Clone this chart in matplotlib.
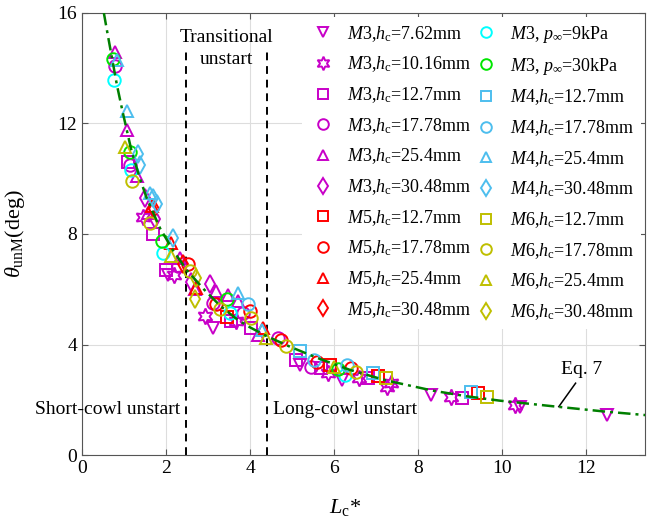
import matplotlib
matplotlib.use("Agg")
import matplotlib.pyplot as plt

plt.rcParams["font.family"] = "Liberation Serif"
plt.rcParams["mathtext.fontset"] = "custom"
plt.rcParams["mathtext.rm"] = "Liberation Serif"
plt.rcParams["mathtext.it"] = "Liberation Serif:italic"

# ---- data (x = Lc*, y = theta_unM) ----
m3_762_x = [2.05, 3.12, 5.19, 6.2, 8.3, 10.43, 12.49]
m3_762_y = [6.5, 4.6, 3.27, 2.72, 2.17, 1.75, 1.44]
m3_1016_x = [1.45, 2.2, 2.92, 3.67, 5.86, 6.6, 7.27, 7.36, 8.78, 10.3]
m3_1016_y = [8.6, 6.5, 5.02, 4.84, 2.96, 2.77, 2.47, 2.6, 2.11, 1.81]
m3_127_x = [1.1, 1.69, 2.01, 3.55, 4.03, 5.1, 5.7, 6.8, 9.05]
m3_127_y = [10.6, 8.0, 6.68, 4.84, 4.6, 3.45, 3.14, 2.77, 2.08]
m3_1778_x = [0.79, 1.15, 2.28, 3.12, 3.83, 4.67, 5.45]
m3_1778_y = [14.07, 10.5, 6.84, 5.5, 5.14, 4.23, 3.2]
m3_254_x = [0.79, 1.06, 1.3, 1.57, 2.33, 2.69, 3.2, 3.48, 3.71, 4.19]
m3_254_y = [14.6, 11.75, 10.1, 8.77, 7.14, 6.0, 5.93, 5.8, 5.56, 4.36]
m3_3048_x = [1.5, 1.74, 2.6, 3.05]
m3_3048_y = [9.3, 8.55, 6.25, 6.18]

m5_127_x = [3.45, 5.9, 7.05, 9.43]
m5_127_y = [5.0, 3.27, 2.87, 2.23]
m5_1778_x = [2.52, 3.2, 4.0, 4.74, 5.6, 6.4]
m5_1778_y = [6.9, 5.45, 5.2, 4.18, 3.38, 3.14]
m5_254_x = [1.66, 2.13, 2.71, 4.31]
m5_254_y = [9.0, 7.68, 6.05, 4.6]
m5_3048_x = [1.72, 2.4]
m5_3048_y = [8.9, 6.9]

m3_9kpa_x = [0.77, 1.16, 1.93, 3.52, 6.26]
m3_9kpa_y = [13.56, 10.3, 7.32, 5.14, 2.9]
m3_30kpa_x = [0.74, 1.14, 1.9, 3.44, 6.1]
m3_30kpa_y = [14.35, 10.96, 7.75, 5.63, 3.13]

m4_127_x = [5.18, 6.92, 9.26]
m4_127_y = [3.75, 2.96, 2.29]
m4_1778_x = [3.95, 5.53, 6.3]
m4_1778_y = [5.45, 3.45, 3.24]
m4_254_x = [0.84, 1.06, 1.62, 3.71, 4.29]
m4_254_y = [14.3, 12.45, 9.5, 5.87, 4.53]
m4_3048_x = [1.33, 1.38, 1.69, 1.78, 2.17]
m4_3048_y = [10.9, 10.5, 9.3, 9.1, 7.87]

m6_127_x = [7.23, 9.65]
m6_127_y = [2.77, 2.11]
m6_1778_x = [1.2, 1.62, 2.57, 3.28, 4.03, 4.86, 6.52]
m6_1778_y = [9.93, 8.4, 6.65, 5.27, 4.96, 3.93, 3.02]
m6_254_x = [1.02, 2.13, 4.39, 6.0]
m6_254_y = [11.14, 7.2, 4.23, 3.2]
m6_3048_x = [2.72, 2.69]
m6_3048_y = [6.4, 5.63]

# Eq. 7 curve
eq7_x = [0.52, 0.59, 0.71, 0.83, 0.97, 1.06, 1.18, 1.38, 1.54, 1.86, 2.17, 2.49,
         2.9, 3.29, 3.7, 4.0, 4.4, 4.95, 5.59, 6.38, 7.24, 8.35, 9.14, 9.93,
         11.3, 12.4, 13.45]
eq7_y = [16.0, 15.4, 14.4, 13.4, 12.4, 11.8, 11.0, 10.0, 9.3, 8.2, 7.4, 6.7,
         6.0, 5.4, 4.9, 4.62, 4.3, 3.92, 3.52, 3.08, 2.7, 2.33, 2.13, 1.97,
         1.75, 1.58, 1.44]

boundary_x = [2.48, 4.40]

magenta = "#C800C8"
red = "#FF0000"
cyan = "#00FFFF"
green = "#00E600"
lblue = "#4DBEEE"
olive = "#BFBF00"
star6 = (6, 1, 0)

left_col = [
    (m3_762_x, m3_762_y, "v", magenta, r"$\mathit{M3}$,$\mathit{h}_\mathrm{c}$=7.62mm"),
    (m3_1016_x, m3_1016_y, star6, magenta, r"$\mathit{M3}$,$\mathit{h}_\mathrm{c}$=10.16mm"),
    (m3_127_x, m3_127_y, "s", magenta, r"$\mathit{M3}$,$\mathit{h}_\mathrm{c}$=12.7mm"),
    (m3_1778_x, m3_1778_y, "o", magenta, r"$\mathit{M3}$,$\mathit{h}_\mathrm{c}$=17.78mm"),
    (m3_254_x, m3_254_y, "^", magenta, r"$\mathit{M3}$,$\mathit{h}_\mathrm{c}$=25.4mm"),
    (m3_3048_x, m3_3048_y, "d", magenta, r"$\mathit{M3}$,$\mathit{h}_\mathrm{c}$=30.48mm"),
    (m5_127_x, m5_127_y, "s", red, r"$\mathit{M5}$,$\mathit{h}_\mathrm{c}$=12.7mm"),
    (m5_1778_x, m5_1778_y, "o", red, r"$\mathit{M5}$,$\mathit{h}_\mathrm{c}$=17.78mm"),
    (m5_254_x, m5_254_y, "^", red, r"$\mathit{M5}$,$\mathit{h}_\mathrm{c}$=25.4mm"),
    (m5_3048_x, m5_3048_y, "d", red, r"$\mathit{M5}$,$\mathit{h}_\mathrm{c}$=30.48mm"),
]
right_col = [
    (m3_9kpa_x, m3_9kpa_y, "o", cyan, r"$\mathit{M3}$, $\mathit{p}_\infty$=9kPa"),
    (m3_30kpa_x, m3_30kpa_y, "o", green, r"$\mathit{M3}$, $\mathit{p}_\infty$=30kPa"),
    (m4_127_x, m4_127_y, "s", lblue, r"$\mathit{M4}$,$\mathit{h}_\mathrm{c}$=12.7mm"),
    (m4_1778_x, m4_1778_y, "o", lblue, r"$\mathit{M4}$,$\mathit{h}_\mathrm{c}$=17.78mm"),
    (m4_254_x, m4_254_y, "^", lblue, r"$\mathit{M4}$,$\mathit{h}_\mathrm{c}$=25.4mm"),
    (m4_3048_x, m4_3048_y, "d", lblue, r"$\mathit{M4}$,$\mathit{h}_\mathrm{c}$=30.48mm"),
    (m6_127_x, m6_127_y, "s", olive, r"$\mathit{M6}$,$\mathit{h}_\mathrm{c}$=12.7mm"),
    (m6_1778_x, m6_1778_y, "o", olive, r"$\mathit{M6}$,$\mathit{h}_\mathrm{c}$=17.78mm"),
    (m6_254_x, m6_254_y, "^", olive, r"$\mathit{M6}$,$\mathit{h}_\mathrm{c}$=25.4mm"),
    (m6_3048_x, m6_3048_y, "d", olive, r"$\mathit{M6}$,$\mathit{h}_\mathrm{c}$=30.48mm"),
]

fig = plt.figure(figsize=(6.53, 5.3), dpi=100)
ax = fig.add_axes([0.1256, 0.1415, 0.862, 0.834])

handles = []
for xs, ys, mk, col, lab in left_col + right_col:
    size = 11.5 if mk == star6 else 9
    h, = ax.plot(xs, ys, linestyle="none", marker=mk, markersize=size,
                 markerfacecolor="none", markeredgecolor=col, markeredgewidth=1.4,
                 label=lab, zorder=3)
    handles.append(h)

ax.plot(eq7_x, eq7_y, color="#007F00", linewidth=1.8,
        dashes=(5, 2, 1.2, 2), zorder=4)

for bx in boundary_x:
    ax.plot([bx, bx], [0, 14.6], color="black", linewidth=1.4,
            dashes=(4, 3), zorder=2)

ax.text(3.44, 14.0, "Transitional\nunstart", ha="center", va="bottom",
        fontsize=14, linespacing=1.4)
ax.text(0.6, 1.64, "Short-cowl unstart", ha="center", va="center", fontsize=14)
ax.text(6.26, 1.64, "Long-cowl unstart", ha="center", va="center", fontsize=14)
ax.text(11.9, 3.1, "Eq. 7", ha="center", va="center", fontsize=14)
ax.plot([11.75, 11.35], [2.6, 1.75], color="black", linewidth=1.1)

ax.set_xlim(0, 13.4)
ax.set_ylim(0, 16)
ax.set_xticks([0, 2, 4, 6, 8, 10, 12])
ax.set_yticks([0, 4, 8, 12, 16])
ax.grid(True, color="#DDDDDD", linewidth=0.8)
ax.set_axisbelow(True)
ax.tick_params(direction="in", top=True, right=True, labelsize=14,
               length=4, color="#555555")
for sp in ax.spines.values():
    sp.set_color("#555555")

ax.set_xlabel(r"$\mathit{L}_\mathrm{c}$*", fontsize=16)
ax.xaxis.set_label_coords(0.467, -0.095)
ax.set_ylabel(r"$\theta_\mathrm{unM}$(deg)", fontsize=16)
ax.yaxis.set_label_coords(-0.098, 0.5)

leg = ax.legend(handles=handles, ncol=2, loc="upper right",
                bbox_to_anchor=(1.0, 1.0), fontsize=13, frameon=True,
                facecolor="white", edgecolor="none", framealpha=1,
                handletextpad=0.6, columnspacing=0.05, labelspacing=0.6,
                borderaxespad=0.2, handlelength=1.5, markerscale=0.85)
leg.set_zorder(5)

fig.savefig("out.png", dpi=100)
